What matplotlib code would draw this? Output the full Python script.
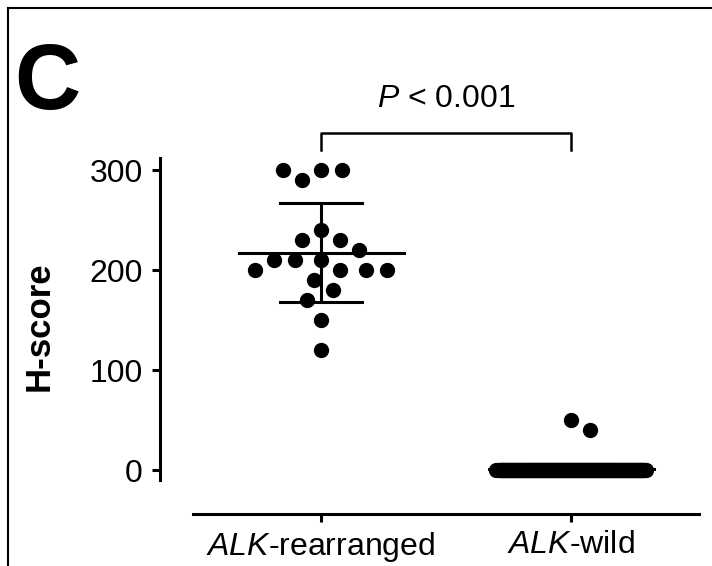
import numpy as np
import matplotlib
matplotlib.use('Agg')
import matplotlib.pyplot as plt
from matplotlib.lines import Line2D

plt.rcParams['font.family'] = ['Liberation Sans', 'DejaVu Sans']
plt.rcParams['mathtext.fontset'] = 'custom'
plt.rcParams['mathtext.rm'] = 'Liberation Sans'
plt.rcParams['mathtext.it'] = 'Liberation Sans:italic'

# data
groups = ['ALK-rearranged', 'ALK-wild']
tick_labels = [r'$\mathit{ALK}$-rearranged', r'$\mathit{ALK}$-wild']
alk_rearranged = [300, 300, 290, 300, 240, 230, 230, 220, 210, 210, 210,
                  200, 200, 200, 200, 190, 180, 170, 150, 120]
alk_wild = [50, 40] + [0] * 148
y_ticks = [0, 100, 200, 300]
p_label = r'$\it{P}$ < 0.001'


def swarm(values, center, ax, min_dist=21.0, max_half=75.0):
    # simple beeswarm in pixel space, squeezed when a row gets too wide
    tr = ax.transData
    px_x = tr.transform((center + 1, 0))[0] - tr.transform((center, 0))[0]
    px_y = tr.transform((0, 1))[1] - tr.transform((0, 0))[1]
    steps = np.arange(0, max_half + 0.5, 1.0)
    cands = np.array(sorted(set(steps) | set(-steps), key=lambda c: (abs(c), -c)))
    px, py = [], []
    xs = []
    for v in values:
        y = v * px_y
        if px:
            d = np.hypot(cands[:, None] - np.array(px)[None, :],
                         y - np.array(py)[None, :]).min(axis=1)
            ok = np.where(d >= min_dist)[0]
            c = cands[ok[0]] if len(ok) else cands[np.argmax(d)]
        else:
            c = 0.0
        px.append(c)
        py.append(y)
        xs.append(center + c / px_x)
    return xs


fig = plt.figure(figsize=(7.12, 5.66), dpi=100)
ax = fig.add_axes([193 / 712, 86 / 566, 506 / 712, 322 / 566])
ax.set_xlim(-0.512, 1.512)
ax.set_ylim(-10, 312)

for i, vals in enumerate([alk_rearranged, alk_wild]):
    xs = swarm(vals, i, ax)
    ax.plot(xs, vals, 'o', color='black', markersize=10, clip_on=False, zorder=3)
    m = np.mean(vals)
    sd = np.std(vals, ddof=1)
    ax.plot([i - 0.33, i + 0.33], [m, m], color='black', lw=2.2, zorder=4)
    ax.plot([i, i], [m - sd, m + sd], color='black', lw=2.2, zorder=4)
    for y in (m - sd, m + sd):
        ax.plot([i - 0.165, i + 0.165], [y, y], color='black', lw=2.2, zorder=4)

# significance bracket
ax.plot([0, 0, 1, 1], [320, 337, 337, 320], color='black', lw=1.8, clip_on=False)
ax.text(0.5, 363, p_label, ha='center', va='baseline', fontsize=23)

ax.spines['top'].set_visible(False)
ax.spines['right'].set_visible(False)
ax.spines['left'].set_position(('outward', 23.8))
ax.spines['bottom'].set_position(('outward', 24.5))
for s in ('left', 'bottom'):
    ax.spines[s].set_linewidth(2.2)
ax.set_yticks(y_ticks)
ax.set_xticks(range(len(groups)))
ax.set_xticklabels(tick_labels)
ax.tick_params(axis='both', direction='out', length=5.8, width=2.2, labelsize=23)
ax.tick_params(axis='y', pad=6.5)
ax.tick_params(axis='x', pad=6)
ax.set_ylabel('H-score', fontsize=25, fontweight='bold')
ax.yaxis.set_label_coords(-0.271, 0.478)

fig.text(14 / 712, 1 - 109 / 566, 'C', fontsize=66, fontweight='bold',
         va='baseline', ha='left')

# panel frame (left and top edges visible)
fig.add_artist(Line2D([8 / 712, 8 / 712], [0, 1 - 8 / 566], color='black', lw=1.5))
fig.add_artist(Line2D([8 / 712, 1], [1 - 8 / 566, 1 - 8 / 566], color='black', lw=1.5))

fig.savefig('out.png', dpi=100)
